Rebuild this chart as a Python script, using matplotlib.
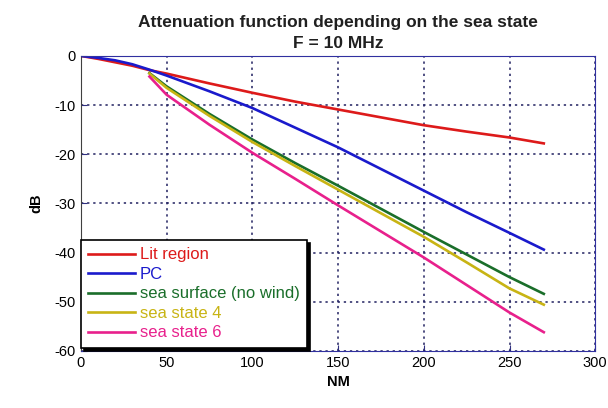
import matplotlib
matplotlib.use('Agg')
from matplotlib import pyplot as plt

plt.rcParams['font.family'] = ['Liberation Sans', 'DejaVu Sans']
plt.rcParams['axes.unicode_minus'] = False

# distances (NM) and attenuation (dB)
nm_full = [0, 10, 20, 30, 40, 50, 75, 100, 125, 150, 175, 200, 225, 250, 270]
nm_sea = [40, 50, 75, 100, 125, 150, 175, 200, 225, 250, 270]

lit_region = [0, -0.6, -1.3, -2.0, -2.9, -3.6, -5.6, -7.5, -9.3, -10.9, -12.5, -14.1, -15.4, -16.6, -17.8]
pc = [0, -0.4, -0.9, -1.7, -2.8, -4.0, -7.2, -10.6, -14.6, -18.6, -23.0, -27.4, -31.8, -36.0, -39.4]
no_wind = [-3.5, -6.2, -11.8, -17.0, -21.8, -26.4, -31.1, -35.8, -40.4, -45.0, -48.4]
sea_state4 = [-3.6, -6.5, -12.2, -17.5, -22.4, -27.2, -32.0, -36.8, -42.0, -47.3, -50.6]
sea_state6 = [-4.2, -7.9, -14.0, -19.7, -25.0, -30.4, -35.7, -41.0, -46.6, -52.2, -56.2]

fig = plt.figure(figsize=(6.08, 4.08), dpi=100)
ax = fig.add_axes([0.133, 0.140, 0.846, 0.723])

lw = 1.9
ax.plot(nm_full, lit_region, color='#dd1a1a', lw=lw, label='Lit region')
ax.plot(nm_full, pc, color='#1a1acc', lw=lw, label='PC')
ax.plot(nm_sea, no_wind, color='#1a6e2a', lw=lw, label='sea surface (no wind)')
ax.plot(nm_sea, sea_state4, color='#c8b414', lw=lw, label='sea state 4')
ax.plot(nm_sea, sea_state6, color='#e8208c', lw=lw, label='sea state 6')

ax.set_xlim(0, 300)
ax.set_ylim(-60, 0)
ax.set_xticks(range(0, 301, 50))
ax.set_yticks(range(-60, 1, 10))
ax.tick_params(direction='in', labelsize=10.5, length=4, color='#303080')
ax.grid(True, linestyle=(0, (1.5, 2.5)), color='#202060', linewidth=1.1)

for s in ['top', 'right', 'bottom']:
    ax.spines[s].set_color('#3030a0')
ax.spines['left'].set_color('#404040')

ax.set_xlabel('NM', fontweight='bold', fontsize=10.5)
ax.set_ylabel('dB', fontweight='bold', fontsize=10.5, labelpad=8)
ax.set_title('Attenuation function depending on the sea state\nF = 10 MHz',
             fontweight='bold', fontsize=12.5, linespacing=1.45, pad=6,
             color='#202020')

leg = ax.legend(loc='lower left', bbox_to_anchor=(0, 0.01), borderaxespad=0,
                fancybox=False, framealpha=1, edgecolor='black',
                shadow={'color': 'black', 'alpha': 1},
                fontsize=12, handlelength=2.8, handletextpad=0.3,
                labelspacing=0.27, borderpad=0.45)
leg.get_frame().set_linewidth(1.2)
for txt, line in zip(leg.get_texts(), leg.get_lines()):
    txt.set_color(line.get_color())

fig.savefig('out.png', dpi=100)
